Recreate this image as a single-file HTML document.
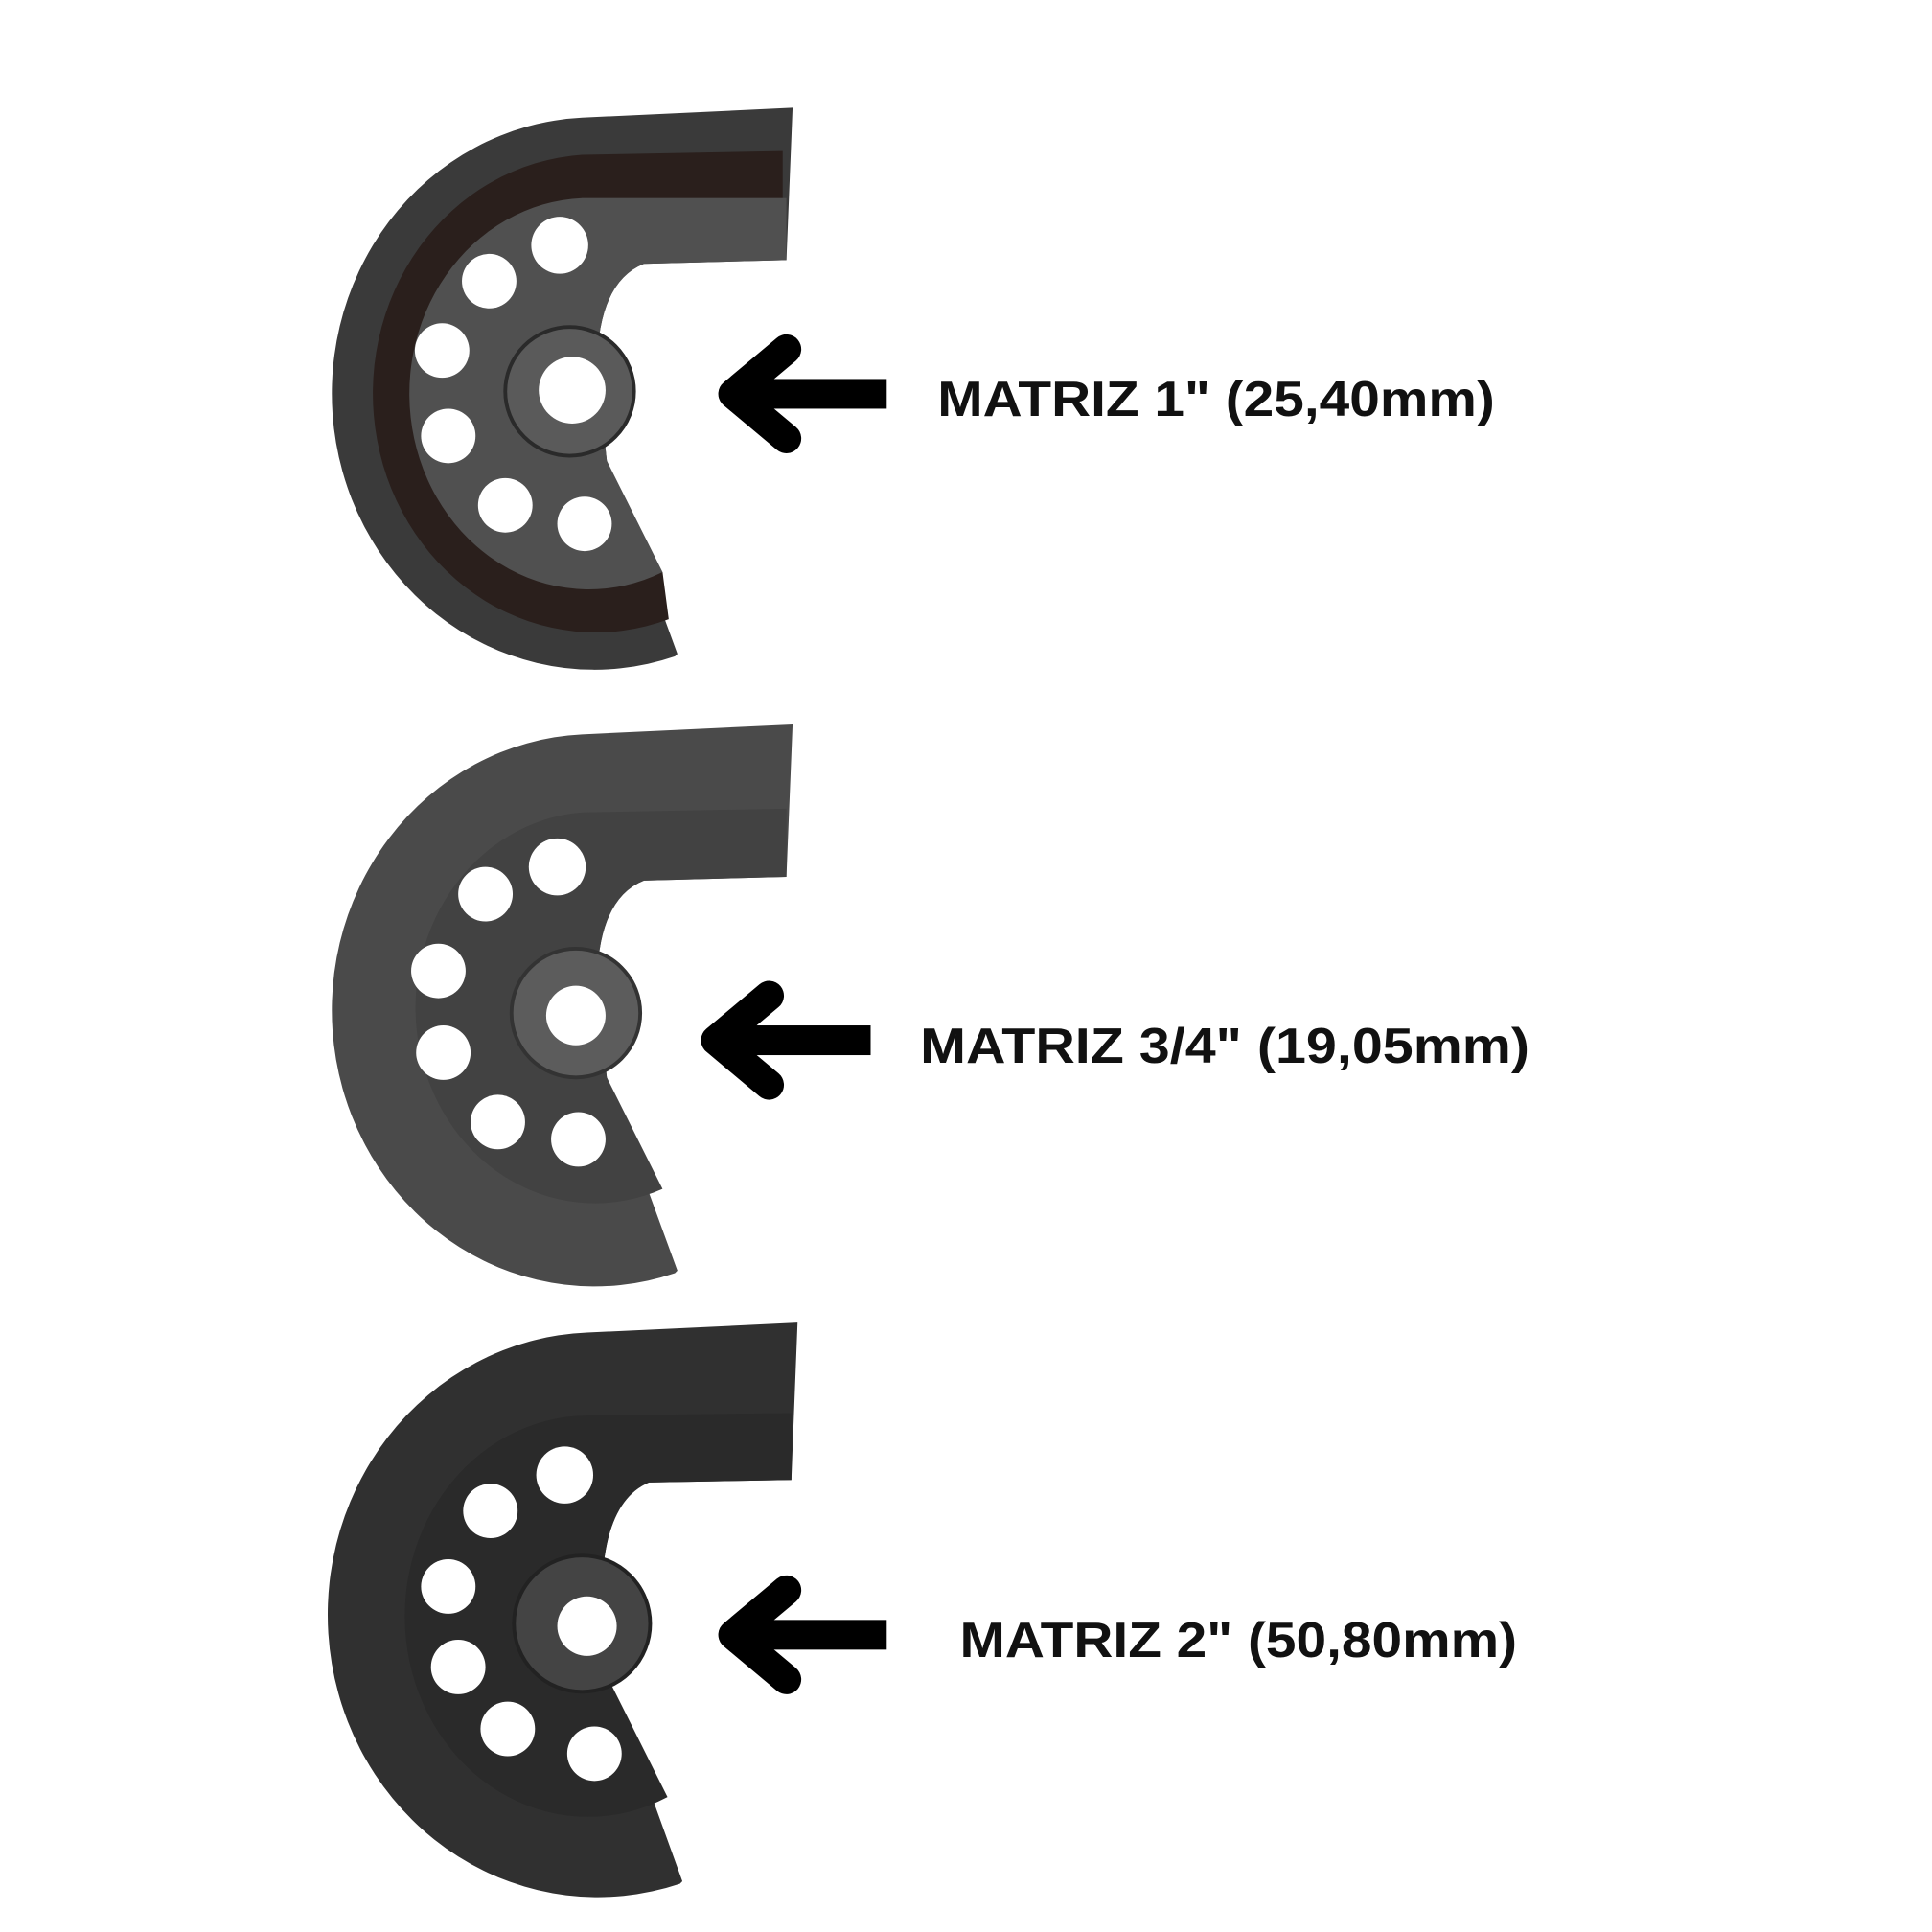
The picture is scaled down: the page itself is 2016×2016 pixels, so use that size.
<!DOCTYPE html>
<html><head><meta charset="utf-8"><style>
html,body{margin:0;padding:0;background:#fff;}
svg{display:block;}
text{font-family:"Liberation Sans",sans-serif;font-weight:bold;fill:#111;}
</style></head><body>
<svg width="2016" height="2016" viewBox="0 0 1560 1560" xmlns="http://www.w3.org/2000/svg">

<!-- Die 1 -->
<g>
  <path d="M640,87 L470,95 A212,223 0 1 0 545,530 L547,528 L490,372 L482,300 Q482,228 520,213 L635,210 Z" fill="#3a3a3a"/>
  <path d="M632,122 L470,125 A180,193 0 1 0 540,500 L535,462 A145,158 0 0 1 470,160 L632,160 Z" fill="#2a1f1c"/>
  <path d="M635,160 L470,160 A145,158 0 1 0 535,462 L490,372 L482,300 Q482,228 520,213 L635,210 Z" fill="#505050"/>
  <circle cx="460" cy="316" r="52" fill="#5a5a5a" stroke="#2a2a2a" stroke-width="3"/>
  <circle cx="462" cy="315" r="27" fill="#fff"/>
  <g fill="#fff">
    <circle cx="395" cy="227" r="22"/><circle cx="452" cy="198" r="23"/>
    <circle cx="357" cy="283" r="22"/><circle cx="362" cy="352" r="22"/>
    <circle cx="408" cy="408" r="22"/><circle cx="472" cy="423" r="22"/>
  </g>
</g>

<!-- Die 2 -->
<g transform="translate(0,498)">
  <path d="M640,87 L470,95 A212,223 0 1 0 545,530 L547,528 L490,372 L482,300 Q482,228 520,213 L635,210 Z" fill="#4a4a4a"/>
  <path d="M635,155 L470,158 A145,158 0 1 0 535,462 L490,372 L482,300 Q482,228 520,213 L635,210 Z" fill="#424242"/>
  <circle cx="465" cy="320" r="52" fill="#5c5c5c" stroke="#333" stroke-width="3"/>
  <circle cx="465" cy="322" r="24" fill="#fff"/>
  <g fill="#fff">
    <circle cx="392" cy="224" r="22"/><circle cx="450" cy="202" r="23"/>
    <circle cx="354" cy="286" r="22"/><circle cx="358" cy="352" r="22"/>
    <circle cx="402" cy="408" r="22"/><circle cx="467" cy="422" r="22"/>
  </g>
</g>

<!-- Die 3 -->
<g transform="translate(4,981)">
  <path d="M640,87 L470,95 A218,228 0 1 0 545,540 L547,538 L490,380 L482,310 Q482,232 520,216 L635,214 Z" fill="#303030"/>
  <path d="M635,160 L470,162 A148,162 0 1 0 535,470 L490,380 L482,310 Q482,232 520,216 L635,214 Z" fill="#2a2a2a"/>
  <circle cx="466" cy="330" r="55" fill="#444" stroke="#222" stroke-width="3"/>
  <circle cx="470" cy="332" r="24" fill="#fff"/>
  <g fill="#fff">
    <circle cx="392" cy="239" r="22"/><circle cx="452" cy="210" r="23"/>
    <circle cx="358" cy="300" r="22"/><circle cx="366" cy="365" r="22"/>
    <circle cx="406" cy="415" r="22"/><circle cx="476" cy="435" r="22"/>
  </g>
</g>

<!-- Arrows -->
<g stroke="#000" stroke-width="24" stroke-linecap="round" stroke-linejoin="round" fill="none">
  <path d="M635,282 L592,318 L635,354"/>
  <path d="M621,804 L578,840 L621,876"/>
  <path d="M635,1284 L592,1320 L635,1356"/>
</g>
<g fill="#000">
  <rect x="600" y="306" width="116" height="24"/>
  <rect x="586" y="828" width="117" height="24"/>
  <rect x="600" y="1308" width="116" height="24"/>
</g>

<text x="757" y="336" font-size="40" textLength="450" lengthAdjust="spacingAndGlyphs">MATRIZ 1" (25,40mm)</text>
<text x="743" y="858" font-size="40" textLength="492" lengthAdjust="spacingAndGlyphs">MATRIZ 3/4" (19,05mm)</text>
<text x="775" y="1338" font-size="40" textLength="450" lengthAdjust="spacingAndGlyphs">MATRIZ 2" (50,80mm)</text>
</svg>
</body></html>
